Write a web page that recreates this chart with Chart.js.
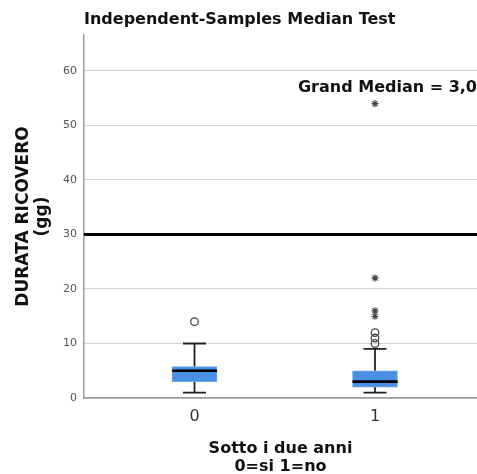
<!DOCTYPE html>
<html>
<head>
<meta charset="utf-8">
<script src="https://cdn.jsdelivr.net/npm/chart.js@4/dist/chart.umd.min.js"></script>
<style>
html,body{margin:0;padding:0;background:#fff;overflow:hidden;}
#wrap{width:477px;height:474px;}
canvas{display:block;}
</style>
</head>
<body>
<div id="wrap"><canvas id="c" width="477" height="474"></canvas></div>
<script>
// ---- data ----
const groups = ['0', '1'];
const whiskerLow = [1, 1];
const q1 = [3, 2];
const median = [5, 3];
const q3 = [5.75, 5];
const whiskerHigh = [10, 9];
const outliers = [[14], [10, 11, 12]];     // circles
const extremes = [[], [15, 16, 22, 54]];   // stars
const grandMedian = 30;
const grandMedianLabel = 'Grand Median = 3,0';
const yTicks = [0, 10, 20, 30, 40, 50, 60];

const FONT = "'DejaVu Sans', sans-serif";

const boxData = groups.map((g, i) => ({x: i, y: [q1[i], q3[i]]}));
const outlierData = [];
outliers.forEach((arr, i) => arr.forEach(v => outlierData.push({x: i, y: v})));
const extremeData = [];
extremes.forEach((arr, i) => arr.forEach(v => extremeData.push({x: i, y: v})));

// let the plot area reach the right edge of the canvas (point overflow padding removed)
const fullWidthPlugin = {
  id: 'fullWidth',
  afterLayout(chart) {
    const r = chart.width;
    chart.chartArea.right = r;
    chart.chartArea.width = r - chart.chartArea.left;
    Object.values(chart.scales).forEach(s => {
      if (s.isHorizontal()) {
        s.right = r;
        s.width = r - s.left;
        s.configure();
      }
    });
  }
};

const boxPlugin = {
  id: 'boxParts',
  beforeDatasetsDraw(chart) {
    const {ctx, scales: {x, y}} = chart;
    ctx.save();
    ctx.strokeStyle = '#222';
    ctx.lineWidth = 1.8;
    groups.forEach((g, i) => {
      const px = x.getPixelForValue(i);
      const half = 11.5;
      ctx.beginPath();
      ctx.moveTo(px, y.getPixelForValue(whiskerLow[i]));
      ctx.lineTo(px, y.getPixelForValue(q1[i]));
      ctx.moveTo(px, y.getPixelForValue(q3[i]));
      ctx.lineTo(px, y.getPixelForValue(whiskerHigh[i]));
      ctx.moveTo(px - half, y.getPixelForValue(whiskerLow[i]));
      ctx.lineTo(px + half, y.getPixelForValue(whiskerLow[i]));
      ctx.moveTo(px - half, y.getPixelForValue(whiskerHigh[i]));
      ctx.lineTo(px + half, y.getPixelForValue(whiskerHigh[i]));
      ctx.stroke();
    });
    ctx.restore();
  },
  afterDatasetsDraw(chart) {
    const {ctx, chartArea, scales: {x, y}} = chart;
    ctx.save();
    // medians
    ctx.strokeStyle = '#000';
    ctx.lineWidth = 2.6;
    groups.forEach((g, i) => {
      const px = x.getPixelForValue(i);
      const py = y.getPixelForValue(median[i]);
      ctx.beginPath();
      ctx.moveTo(px - 22.5, py);
      ctx.lineTo(px + 22.5, py);
      ctx.stroke();
    });
    // grand median line
    const gy = y.getPixelForValue(grandMedian);
    ctx.lineWidth = 3;
    ctx.beginPath();
    ctx.moveTo(chartArea.left, gy);
    ctx.lineTo(chartArea.right, gy);
    ctx.stroke();
    // label
    ctx.fillStyle = '#111';
    ctx.font = 'bold 16px ' + FONT;
    ctx.textAlign = 'right';
    ctx.textBaseline = 'alphabetic';
    ctx.fillText(grandMedianLabel, chartArea.right, 92);
    ctx.restore();
  }
};

new Chart(document.getElementById('c'), {
  type: 'bar',
  data: {
    datasets: [
      {
        type: 'bar',
        data: boxData,
        backgroundColor: 'rgb(74,144,226)',
        borderColor: 'rgb(110,165,232)',
        borderWidth: 1,
        borderSkipped: false,
        barThickness: 45,
        order: 2
      },
      {
        type: 'scatter',
        data: outlierData,
        pointStyle: 'circle',
        pointRadius: 3.8,
        pointBackgroundColor: 'rgba(255,255,255,0)',
        pointBorderColor: '#444',
        pointBorderWidth: 1.3,
        order: 1
      },
      {
        type: 'scatter',
        data: extremeData,
        pointStyle: 'star',
        pointRadius: 3.6,
        pointBorderColor: '#444',
        pointBorderWidth: 1.2,
        order: 1
      }
    ]
  },
  plugins: [fullWidthPlugin, boxPlugin],
  options: {
    responsive: false,
    animation: false,
    layout: {padding: 0},
    plugins: {
      legend: {display: false},
      tooltip: {enabled: false},
      title: {
        display: true,
        text: 'Independent-Samples Median Test',
        align: 'start',
        fullSize: false,
        color: '#111',
        font: {family: FONT, size: 16, weight: 'bold', lineHeight: 1.2},
        padding: {top: 10.4, bottom: 5.4}
      }
    },
    scales: {
      x: {
        type: 'linear',
        offset: false,
        min: -0.6122,
        max: 1.5651,
        afterBuildTicks: (s) => { s.ticks = groups.map((g, i) => ({value: i})); },
        afterFit: (s) => { s.height = 76; s.paddingLeft = 0; s.paddingRight = 0; },
        grid: {display: false, drawTicks: false},
        border: {display: true, color: '#9a9a9a', width: 1.5},
        ticks: {
          callback: (v) => groups[v],
          color: '#333',
          font: {family: FONT, size: 16},
          padding: 9,
          maxRotation: 0
        },
        title: {
          display: true,
          text: ['Sotto i due anni', '0=si 1=no'],
          color: '#111',
          font: {family: FONT, size: 16, weight: 'bold', lineHeight: 1.125},
          padding: {top: 0, bottom: -2}
        }
      },
      y: {
        min: 0,
        max: 66.6,
        afterBuildTicks: (s) => { s.ticks = yTicks.map(v => ({value: v})); },
        afterFit: (s) => { s.width = 84; },
        grid: {color: '#d2d2d2', lineWidth: 1, drawTicks: false},
        border: {display: true, color: '#9a9a9a', width: 1.5},
        ticks: {
          color: '#555',
          font: {family: FONT, size: 11},
          padding: 7
        },
        title: {
          display: true,
          text: ['DURATA RICOVERO', '(gg)'],
          color: '#111',
          font: {family: FONT, size: 17, weight: 'bold', lineHeight: 1.1},
          padding: {top: 14.6, bottom: 0}
        }
      }
    }
  }
});
</script>
</body>
</html>
